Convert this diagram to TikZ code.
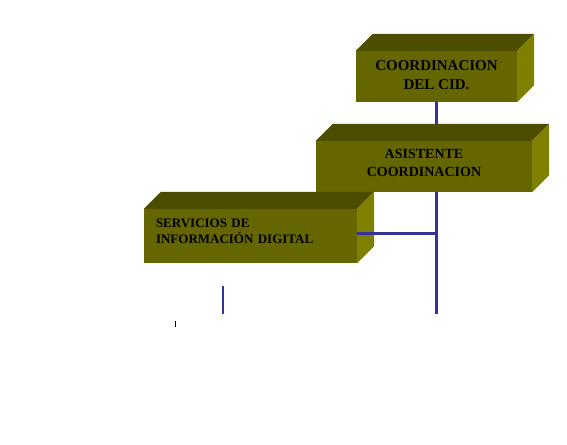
\documentclass[tikz,border=0pt]{standalone}
\usepackage{fontspec}
\setmainfont{Liberation Serif}
\definecolor{frontc}{RGB}{102,102,0}
\definecolor{topc}{RGB}{77,77,0}
\definecolor{sidec}{RGB}{128,128,0}
\definecolor{linec}{RGB}{51,51,153}
\pgfdeclarelayer{bg}
\pgfsetlayers{bg,main}
\newcommand\cubefaces[1]{%
  \fill[topc] (#1.north west) -- ++(17,-17) -- ([shift={(17,-17)}]#1.north east) -- (#1.north east) -- cycle;
  \fill[sidec] (#1.north east) -- ++(17,-17) -- ([shift={(17,-17)}]#1.south east) -- (#1.south east) -- cycle;}
\begin{document}
\begin{tikzpicture}[x=1pt,y=-1pt,
  front/.style={fill=frontc, draw=none, inner sep=0pt, text=black},
  conn/.style={draw=linec, line width=3pt},
  thinconn/.style={draw=linec, line width=2pt},
  tick/.style={draw=black, line width=1pt}]
\useasboundingbox (0,0) rectangle (567,444);
% boxes
\node[front, minimum width=161pt, minimum height=51pt, align=center, text depth=3pt,
  font=\bfseries\fontsize{15}{18.6}\selectfont] (coord) at (436.5,76.5) {COORDINACION\\DEL CID.};
\cubefaces{coord}
\node[front, minimum width=216pt, minimum height=51pt, align=center, text depth=7pt,
  font=\bfseries\fontsize{14}{18.4}\selectfont] (asis) at (424,166.5) {ASISTENTE\\COORDINACION};
\cubefaces{asis}
\node[front, minimum width=213pt, minimum height=54pt, text width=189pt, inner xsep=12pt, align=left, text depth=26pt,
  font=\bfseries\fontsize{13}{16}\selectfont] (serv) at (250.5,236) {SERVICIOS DE\\INFORMACIÓN DIGITAL};
\cubefaces{serv}
% connectors
\coordinate (trunkend) at (436,314);
\begin{pgfonlayer}{bg}
\fill[white] (0,0) rectangle (567,444);
\draw[conn] (coord.south) -- (coord.south |- trunkend);
\end{pgfonlayer}
\draw[conn] ([yshift=3pt]serv.east) -- ([yshift=3pt]serv.east -| coord.south);
\coordinate (sa) at (223,286);
\coordinate (sb) at (223,314);
\draw[thinconn] (sa) -- (sb);
\coordinate (ta) at (175,321);
\coordinate (tb) at (175,327);
\draw[tick] (ta) -- (tb);
\end{tikzpicture}
\end{document}
